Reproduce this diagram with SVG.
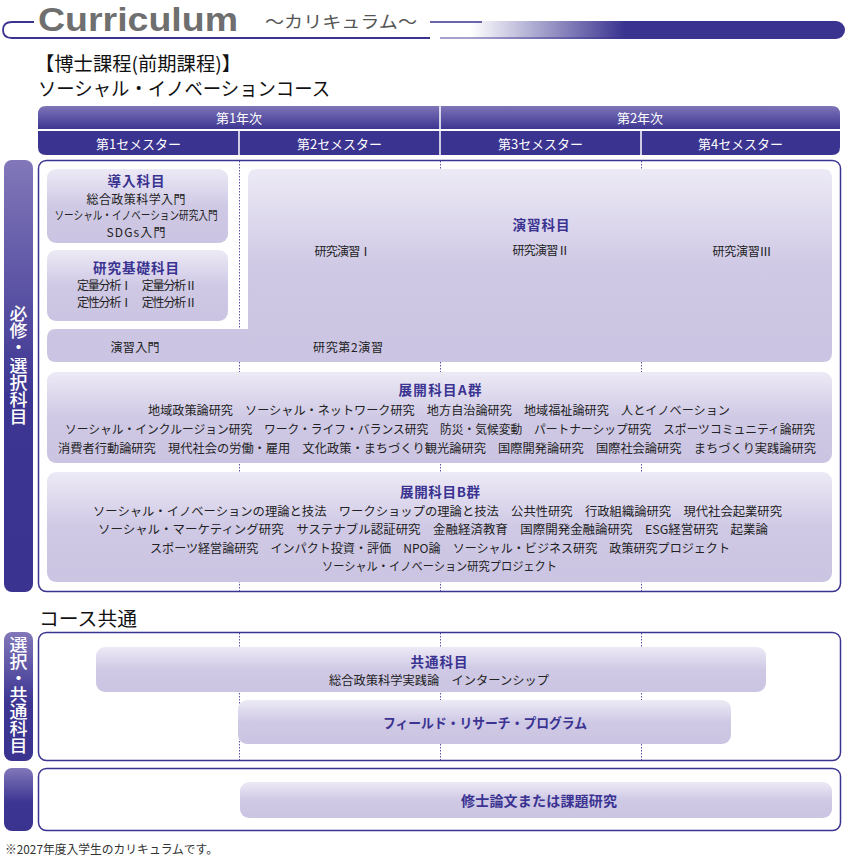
<svg xmlns="http://www.w3.org/2000/svg" width="848" height="857" viewBox="0 0 848 857">
<defs>
<linearGradient id="gBox" x1="0" y1="0" x2="0" y2="1">
<stop offset="0" stop-color="#edeaf6"/>
<stop offset="0.5" stop-color="#cfc9e5"/>
<stop offset="1" stop-color="#cbc4e2"/>
</linearGradient>
<linearGradient id="gSide" x1="0" y1="0" x2="0" y2="1">
<stop offset="0" stop-color="#8177b9"/>
<stop offset="0.55" stop-color="#3c3592"/>
<stop offset="1" stop-color="#3a3390"/>
</linearGradient>
<linearGradient id="gRow1" x1="0" y1="0" x2="0" y2="1">
<stop offset="0" stop-color="#7e74b8"/>
<stop offset="1" stop-color="#3d3692"/>
</linearGradient>
<linearGradient id="gBar" gradientUnits="userSpaceOnUse" x1="470" y1="0" x2="625" y2="0">
<stop offset="0" stop-color="#ffffff"/>
<stop offset="1" stop-color="#3a3390"/>
</linearGradient>
</defs>
<style>
.jp{font-family:"Noto Sans CJK JP","Noto Sans",sans-serif;}
.t{font-size:12px;fill:#222;text-anchor:middle;dominant-baseline:central;}
.h{font-size:13.5px;font-weight:bold;fill:#3a3391;text-anchor:middle;dominant-baseline:central;}
.w{font-size:13px;fill:#fff;text-anchor:middle;dominant-baseline:central;}
.s{font-size:18px;font-weight:500;fill:#fff;text-anchor:middle;writing-mode:vertical-rl;}
.box{fill:url(#gBox);}
.frame{fill:#fff;stroke:#3a3390;stroke-width:1.5;}
.side{fill:url(#gSide);}
.dot{stroke:#5b53aa;stroke-width:1;stroke-dasharray:1.5 1.5;fill:none;}
</style>

<g id="header">
<path d="M34 22 H12 Q3 22 3 30 Q3 38 12 38 H620" fill="none" stroke="#3a3390" stroke-width="1.8"/>
<path d="M430 21 H836 A9 9 0 0 1 836 39 H430 Z" fill="url(#gBar)"/>
<path d="M430 22 H482" stroke="#3a3390" stroke-width="1.5"/>
<path d="M440 38 H620" stroke="#3a3390" stroke-width="1.5" opacity="0.6"/>
<text x="38" y="30.5" font-family="Liberation Sans, Arial, sans-serif" font-weight="bold" font-size="33.5" fill="#6f6f6f" textLength="200" lengthAdjust="spacingAndGlyphs">Curriculum</text>
<text class="jp" x="265" y="20" font-size="17" fill="#555" dominant-baseline="central" textLength="152" lengthAdjust="spacingAndGlyphs">〜カリキュラム〜</text>
<text class="jp" x="35" y="62" font-size="19" fill="#111" dominant-baseline="central" textLength="206" lengthAdjust="spacingAndGlyphs">【博士課程(前期課程)】</text>
<text class="jp" x="38" y="87" font-size="19" fill="#111" dominant-baseline="central" textLength="292" lengthAdjust="spacingAndGlyphs">ソーシャル・イノベーションコース</text>
</g>

<g id="table-header">
<path d="M38 129 V114 Q38 106 46 106 H832 Q840 106 840 114 V129 Z" fill="url(#gRow1)"/>
<path d="M38 131 H840 V147 Q840 155 832 155 H46 Q38 155 38 147 Z" fill="#3a3390"/>
<path d="M440 106 V129 M239 131 V155 M440 131 V155 M641 131 V155" stroke="#fff" stroke-width="1.5"/>
<text class="jp w" x="239" y="117.5">第1年次</text>
<text class="jp w" x="640" y="117.5">第2年次</text>
<text class="jp w" x="138.5" y="143">第1セメスター</text>
<text class="jp w" x="339.5" y="143">第2セメスター</text>
<text class="jp w" x="540.5" y="143">第3セメスター</text>
<text class="jp w" x="740.5" y="143">第4セメスター</text>
</g>

<g id="section1">
<rect class="side" x="4" y="160" width="29" height="432" rx="8"/>
<text class="jp s" x="18.5" y="365" textLength="120" lengthAdjust="spacingAndGlyphs">必修・選択科目</text>
<rect class="frame" x="38.5" y="160.5" width="802" height="431" rx="8"/>
</g>

<g id="section2">
<rect class="side" x="4" y="632" width="29" height="129" rx="8"/>
<text class="jp s" x="18.5" y="695" textLength="118" lengthAdjust="spacingAndGlyphs">選択・共通科目</text>
<rect class="frame" x="38.5" y="632.5" width="802" height="128" rx="8"/>
</g>

<g id="section3">
<rect class="side" x="4" y="768" width="29" height="63" rx="8"/>
<rect class="frame" x="38.5" y="768.5" width="802" height="62" rx="8"/>
</g>

<g id="connectors">
<path class="dot" d="M239.5 161 V591 M440.5 161 V591 M641.5 161 V591"/>
<path class="dot" d="M239.5 633 V760 M440.5 633 V760 M641.5 633 V760"/>
</g>

<g id="dounyu">
<rect class="box" x="47" y="169" width="181" height="74" rx="9"/>
<text class="jp h" x="136" y="180" textLength="57">導入科目</text>
<text class="jp t" x="136" y="198" textLength="99">総合政策科学入門</text>
<text class="jp t" x="136" y="214" textLength="163" lengthAdjust="spacingAndGlyphs">ソーシャル・イノベーション研究入門</text>
<text class="jp t" x="136" y="231" textLength="59">SDGs入門</text>
</g>

<g id="kiso">
<rect class="box" x="47" y="250" width="181" height="71" rx="9"/>
<text class="jp h" x="136" y="267" textLength="86">研究基礎科目</text>
<text class="jp t" x="137" y="284" textLength="120">定量分析Ⅰ　定量分析Ⅱ</text>
<text class="jp t" x="137" y="301" textLength="120">定性分析Ⅰ　定性分析Ⅱ</text>
</g>

<g id="enshu">
<path class="box" d="M257 169 H823 Q832 169 832 178 V353 Q832 362 823 362 H56 Q47 362 47 353 V338 Q47 329 56 329 H248 V178 Q248 169 257 169 Z"/>
<text class="jp h" x="541" y="224" textLength="57">演習科目</text>
<text class="jp t" x="343" y="250" textLength="57">研究演習Ⅰ</text>
<text class="jp t" x="541" y="249" textLength="57">研究演習Ⅱ</text>
<text class="jp t" x="742" y="250" textLength="59">研究演習Ⅲ</text>
<text class="jp t" x="135" y="346" textLength="49">演習入門</text>
<text class="jp t" x="348" y="346" textLength="70">研究第2演習</text>
</g>

<g id="tenkai-a">
<rect class="box" x="47" y="372" width="785" height="91" rx="9"/>
<text class="jp h" x="440" y="389" textLength="83">展開科目A群</text>
<text class="jp t" x="439" y="409" textLength="582" lengthAdjust="spacingAndGlyphs">地域政策論研究　ソーシャル・ネットワーク研究　地方自治論研究　地域福祉論研究　人とイノベーション</text>
<text class="jp t" x="440" y="428" textLength="750" lengthAdjust="spacingAndGlyphs">ソーシャル・インクルージョン研究　ワーク・ライフ・バランス研究　防災・気候変動　パートナーシップ研究　スポーツコミュニティ論研究</text>
<text class="jp t" x="437" y="447" textLength="758" lengthAdjust="spacingAndGlyphs">消費者行動論研究　現代社会の労働・雇用　文化政策・まちづくり観光論研究　国際開発論研究　国際社会論研究　まちづくり実践論研究</text>
</g>

<g id="tenkai-b">
<rect class="box" x="47" y="472" width="785" height="110" rx="9"/>
<text class="jp h" x="440" y="491" textLength="80">展開科目B群</text>
<text class="jp t" x="437.5" y="510" textLength="689" lengthAdjust="spacingAndGlyphs">ソーシャル・イノベーションの理論と技法　ワークショップの理論と技法　公共性研究　行政組織論研究　現代社会起業研究</text>
<text class="jp t" x="433" y="528" textLength="670" lengthAdjust="spacingAndGlyphs">ソーシャル・マーケティング研究　サステナブル認証研究　金融経済教育　国際開発金融論研究　ESG経営研究　起業論</text>
<text class="jp t" x="440" y="547" textLength="580" lengthAdjust="spacingAndGlyphs">スポーツ経営論研究　インパクト投資・評価　NPO論　ソーシャル・ビジネス研究　政策研究プロジェクト</text>
<text class="jp t" x="439.5" y="565" textLength="235" lengthAdjust="spacingAndGlyphs">ソーシャル・イノベーション研究プロジェクト</text>
</g>

<g id="course-common">
<text class="jp" x="39" y="617" font-size="19" fill="#111" dominant-baseline="central" textLength="98" lengthAdjust="spacingAndGlyphs">コース共通</text>
</g>

<g id="kyoutsu">
<rect class="box" x="96" y="647" width="670" height="45" rx="9"/>
<text class="jp h" x="439" y="661" textLength="57">共通科目</text>
<text class="jp t" x="439" y="679" textLength="220" lengthAdjust="spacingAndGlyphs">総合政策科学実践論　インターンシップ</text>
</g>

<g id="field">
<rect class="box" x="238" y="700" width="493" height="44" rx="9"/>
<text class="jp h" x="485" y="722" textLength="204" lengthAdjust="spacingAndGlyphs">フィールド・リサーチ・プログラム</text>
</g>

<g id="thesis">
<rect class="box" x="240" y="782" width="592" height="36" rx="9"/>
<text class="jp h" x="539" y="800" style="font-size:14px" textLength="156">修士論文または課題研究</text>
</g>

<g id="footnote">
<text class="jp" x="5" y="848" font-size="12" fill="#333" dominant-baseline="central" textLength="213" lengthAdjust="spacingAndGlyphs">※2027年度入学生のカリキュラムです。</text>
</g>
</svg>
